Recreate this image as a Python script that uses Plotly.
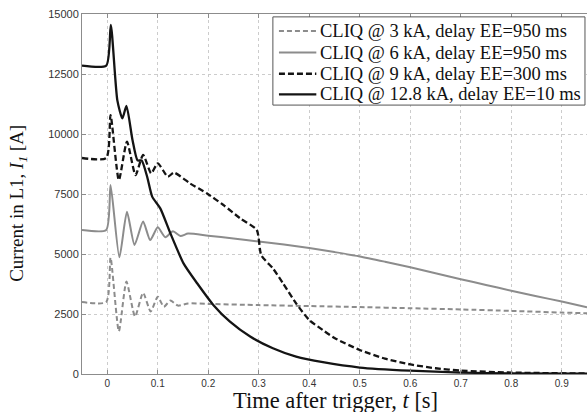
import plotly.graph_objects as go

# Time after trigger [s] and current [A]
t_3ka = [-0.05, -0.002, 0.0065, 0.023, 0.038, 0.055, 0.071, 0.086, 0.1, 0.112,
         0.125, 0.14, 0.16, 0.2, 0.3, 0.4, 0.5, 0.6, 0.7, 0.8, 0.9, 0.95]
i_3ka = [3000, 3000, 4850, 1780, 3850, 2400, 3380, 2600, 3220, 2800,
         3060, 2850, 2940, 2920, 2870, 2830, 2790, 2740, 2690, 2630, 2560, 2530]

t_6ka = [-0.05, -0.002, 0.0065, 0.024, 0.039, 0.054, 0.071, 0.085, 0.1, 0.115,
         0.13, 0.145, 0.16, 0.2, 0.25, 0.3, 0.35, 0.4, 0.45, 0.5, 0.55, 0.6,
         0.65, 0.7, 0.75, 0.8, 0.85, 0.9, 0.95]
i_6ka = [6000, 6000, 7870, 4860, 6760, 5380, 6350, 5580, 6110, 5700,
         5950, 5750, 5850, 5760, 5650, 5520, 5400, 5250, 5080, 4900, 4680, 4450,
         4200, 3950, 3710, 3470, 3240, 3020, 2780]

t_9ka = [-0.05, -0.002, 0.0065, 0.023, 0.039, 0.056, 0.071, 0.087, 0.1, 0.12,
         0.132, 0.164, 0.197, 0.23, 0.263, 0.296, 0.305, 0.328, 0.348, 0.374,
         0.4, 0.427, 0.45, 0.5, 0.55, 0.6, 0.65, 0.7, 0.8, 0.95]
i_9ka = [9000, 9000, 10790, 8080, 9680, 8290, 9130, 8360, 8780, 8220,
         8390, 7940, 7530, 7040, 6490, 6000, 4950, 4400, 3780, 2940,
         2250, 1830, 1500, 1000, 640, 400, 240, 140, 60, 20]

t_12ka = [-0.05, -0.002, 0.007, 0.02, 0.03, 0.038, 0.05, 0.06, 0.068, 0.079,
          0.089, 0.105, 0.125, 0.151, 0.178, 0.21, 0.243, 0.283, 0.328, 0.374,
          0.427, 0.5, 0.6, 0.7, 0.8, 0.95]
i_12ka = [12850, 12850, 14550, 11400, 10650, 11170, 9750, 8900, 8900, 8220,
          7390, 6900, 5860, 4610, 3780, 2880, 2180, 1560, 1070, 720,
          490, 270, 140, 60, 25, 10]

x_ticks = [0, 0.1, 0.2, 0.3, 0.4, 0.5, 0.6, 0.7, 0.8, 0.9]
x_labels = ["0", "0.1", "0.2", "0.3", "0.4", "0.5", "0.6", "0.7", "0.8", "0.9"]
y_ticks = [0, 2500, 5000, 7500, 10000, 12500, 15000]

GRAY = "#8c8c8c"
BLACK = "#141414"
SERIF = "Liberation Serif, Times New Roman, serif"
SANS = "Liberation Sans, Arial, sans-serif"

series = [
    (t_3ka, i_3ka, "CLIQ @ 3 kA, delay EE=950 ms", GRAY, "5px,3px", 2),
    (t_6ka, i_6ka, "CLIQ @ 6 kA, delay EE=950 ms", GRAY, "solid", 2),
    (t_9ka, i_9ka, "CLIQ @ 9 kA, delay EE=300 ms", BLACK, "6px,3px", 2.3),
    (t_12ka, i_12ka, "CLIQ @ 12.8 kA, delay EE=10 ms", BLACK, "solid", 2.3),
]

fig = go.Figure()
for t, i, name, color, dash, width in series:
    fig.add_trace(go.Scatter(
        x=t, y=i, name=name, mode="lines", showlegend=False,
        line={"color": color, "dash": dash, "width": width, "shape": "spline", "smoothing": 0.6},
    ))

# Matlab-style legend box drawn in paper coordinates (rows are tighter than plotly's legend allows)
fig.add_shape(type="rect", xref="paper", yref="paper", x0=0.378, x1=0.996, y0=0.747, y1=0.992,
              line={"color": "#555555", "width": 1}, fillcolor="white", layer="above")
row_y = [0.953, 0.893, 0.834, 0.777]
for (t, i, name, color, dash, width), y in zip(series, row_y):
    fig.add_shape(type="line", xref="paper", yref="paper", x0=0.39, x1=0.464, y0=y, y1=y,
                  line={"color": color, "dash": dash, "width": width}, layer="above")
    fig.add_annotation(text=name, xref="paper", yref="paper", x=0.467, y=y,
                       xanchor="left", yanchor="middle", showarrow=False,
                       font={"family": SERIF, "size": 18.5, "color": "#111111"})

# axis titles
fig.add_annotation(text="Time after trigger, <i>t</i> [s]", xref="paper", yref="paper",
                   x=0.501, y=-0.073, xanchor="center", yanchor="middle", showarrow=False,
                   font={"family": SERIF, "size": 22.5, "color": "#111111"})
fig.add_annotation(text="Current in L1, <i>I<sub>1</sub></i> [A]", xref="paper", yref="paper",
                   x=-0.127, y=0.475, xanchor="center", yanchor="middle", showarrow=False,
                   textangle=-90, font={"family": SERIF, "size": 19, "color": "#111111"})

fig.update_layout(
    width=587,
    height=412,
    margin={"l": 82, "r": 0, "t": 14, "b": 38},
    plot_bgcolor="white",
    paper_bgcolor="white",
)
fig.update_xaxes(
    range=[-0.05, 0.95],
    tickvals=x_ticks,
    ticktext=x_labels,
    tickfont={"family": SANS, "size": 10, "color": "#333333"},
    showline=True, linecolor="#8c8c8c", linewidth=1, mirror="ticks",
    ticks="inside", ticklen=4, tickcolor="#8c8c8c",
    showgrid=True, gridcolor="#cccccc", griddash="dot", gridwidth=1,
    zeroline=False,
)
fig.update_yaxes(
    range=[0, 15000],
    tickvals=y_ticks,
    tickformat="d",
    tickfont={"family": SANS, "size": 11, "color": "#333333"},
    showline=True, linecolor="#8c8c8c", linewidth=1,
    ticks="inside", ticklen=4, tickcolor="#8c8c8c",
    showgrid=True, gridcolor="#cccccc", griddash="dot", gridwidth=1,
    zeroline=False,
)

# the page's default 8px body margin would shift the figure out of the window
fig.write_html("out.html", config={"displayModeBar": False},
               post_script="document.body.style.margin = '0';")
